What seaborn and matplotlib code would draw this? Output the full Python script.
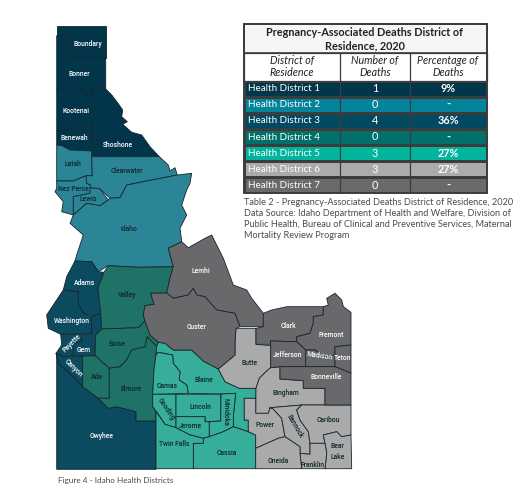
import numpy as np
import seaborn as sns
import matplotlib
matplotlib.use('Agg')
import matplotlib.pyplot as plt
from matplotlib.colors import ListedColormap
from matplotlib.patches import Rectangle

sns.set_theme(style='white')
plt.rcParams['font.family'] = ['Lato', 'DejaVu Sans']

# table
districts = ['Health District 1', 'Health District 2', 'Health District 3', 'Health District 4',
             'Health District 5', 'Health District 6', 'Health District 7']
deaths = ['1', '0', '4', '0', '3', '3', '0']
percents = ['9%', '-', '36%', '-', '27%', '27%', '-']
table_colors = ['#02364b', '#03849a', '#014a62', '#02706a', '#02b49c', '#ababab', '#6a6a6c']
map_colors = ['#02354a', '#2c8596', '#0b4a5f', '#1f7266', '#36ae9a', '#aaaaaa', '#69696b']

# county outlines
counties_d1 = {
    'Boundary': [(56.7,25.7),(105.7,25.7),(105.7,57.7),(69.3,57.7),(69.3,35.7),(56.7,35.7)],
    'Bonner': [(56.7,35.7),(69.3,35.7),(69.3,57.7),(105.7,57.7),(105.7,89),(98,85),(93.3,85.7),(92.7,95),(83.3,95),(83.3,89),(56.7,90.3)],
    'Kootenai': [(56.7,90.3),(83.3,89),(83.3,95),(92.7,95),(92.7,126),(77.3,126.7),(77.3,130),(56.7,130.7)],
    'Benewah': [(56.7,130.7),(77.3,130),(77.3,126.7),(92.7,126),(91.7,151),(70,150),(61.7,145.7),(56.7,145)],
    'Shoshone': [(93.3,85.7),(98,85),(105.7,89),(111.7,95),(117.3,102.3),(122.7,110),(121.7,116.7),(127.3,121.7),(122.7,124.3),
                 (131.7,132.3),(141.7,135),(150,146.7),(159.3,156.7),(91.7,156.7),(91.7,151),(92.7,126),(92.7,95)],
}
counties_d2 = {
    'Latah': [(56.7,145),(61.7,145.7),(70,150),(91.7,151),(91.7,156.7),(92.3,175.7),(86,175.7),(73.3,181),(56.7,181)],
    'Nez Perce': [(56.7,181),(73.3,181),(86,175.7),(86.7,183.3),(90.7,185),(90,193.3),(73.3,196.7),(73.3,215),(61.7,211.7),
                  (63.3,201.7),(55,191.7),(56.7,188.3)],
    'Lewis': [(73.3,196.7),(90,193.3),(90,187.7),(99.3,188.3),(108.3,200),(100,205.7),(86.7,203.3),(73.3,215)],
    'Clearwater': [(91.7,156.7),(159.3,156.7),(168.3,165),(170,171),(175,167.7),(177.3,175),(126.7,185),(120,197.7),(110,198.3),
                   (99.3,188.3),(90,187.7),(90.7,185),(86.7,183.3),(86,175.7),(92.3,175.7)],
    'Idaho': [(177.3,175),(126.7,185),(120,197.7),(110,198.3),(108.3,200),(100,205.7),(86.7,203.3),(73.3,215),(70,223.3),(83.3,235),
              (76.7,255),(75,261),(91.7,261.7),(98.3,271.7),(108.3,265.7),(138.3,267.3),(173.3,266.7),(168.3,248.3),(181.7,241.7),
              (180,228.3),(186.7,215),(181.7,205),(186.7,190),(190,183.3),(191.7,173.3)],
}
counties_d3 = {
    'Adams': [(75,261),(91.7,261.7),(98.3,271.7),(104,272.3),(98,288),(100.7,313.3),(93.3,316),(83.3,313.3),(78.3,303.3),(78.3,291.7),
              (63.3,290),(66.7,276.7)],
    'Washington': [(63.3,290),(78.3,291.7),(78.3,303.3),(83.3,313.3),(91.7,316.7),(91.7,333.7),(60.7,334.3),(48.3,328.3),(46.7,315),(53.3,305)],
    'Gem': [(91.7,316.7),(100.7,313.3),(101.7,329),(95.7,335),(95,355.7),(73.3,356),(73.3,343.3),(81.7,341),(81.7,334.3),(91.7,333.7)],
    'Payette': [(60.7,334.3),(81.7,334.3),(81.7,341),(73.3,343.3),(73.3,356),(63.3,356.7),(56,353.3),(61.7,345)],
    'Canyon': [(56,353.3),(63.3,356.7),(73.3,356),(82.7,356),(82.7,386.7),(73.3,376.7),(58.3,363.3)],
    'Owyhee': [(56.7,353.3),(58.3,363.3),(73.3,376.7),(82.7,386.7),(98.3,398.3),(108.3,408.3),(116.7,406.7),(136,411.7),(136,421),
               (156,421),(156,469.3),(56.7,469.3)],
}
counties_d4 = {
    'Valley': [(104,272.3),(108.3,265.7),(138.3,267.3),(173.3,266.7),(170,278),(166.7,293),(150.7,293.3),(154,304.3),(145,305.7),
               (143.3,315),(145,321),(138.3,327.7),(101.7,329),(100.7,313.3),(98,288)],
    'Boise': [(95.7,335),(101.7,329),(138.3,327.7),(145,321),(150,335),(158.3,342.3),(156.7,346.7),(147.3,336.7),(145,346.7),
              (131.7,350),(126.7,360),(120,366.7),(109.3,368.3),(95,355.7)],
    'Ada': [(82.7,356),(95,355.7),(109.3,368.3),(109.3,398.3),(98.3,398.3),(82.7,386.7)],
    'Elmore': [(109.3,368.3),(120,366.7),(126.7,360),(131.7,350),(145,346.7),(147.3,336.7),(156.7,346.7),(156,355),(154,370),
               (152.7,394.3),(152.7,406.7),(156,411.7),(156,421),(136,421),(136,411.7),(116.7,406.7),(108.3,408.3),(98.3,398.3),(109.3,398.3)],
}
counties_d5 = {
    'Blaine': [(156.7,346.7),(158.3,342.3),(165,343.3),(173.3,350),(191.7,350),(203.3,361),(218.3,369),(225,381.7),(239.3,388.3),
               (256,388.3),(255.7,398.3),(244.3,398.3),(244.3,420),(248.3,420),(248.3,431.7),(233.3,426.7),(233.3,416.7),(235.7,393.3),
               (221,394),(188.3,393.3),(186.7,385),(179.3,380),(180,371.7),(173.3,363.3),(172.7,355),(158.3,352.3),(156,355)],
    'Camas': [(156,355),(158.3,352.3),(172.7,355),(173.3,363.3),(180,371.7),(179.3,380),(186.7,385),(188.3,393.3),(152.7,394.3),(154,370)],
    'Gooding': [(152.7,394.3),(176,394.3),(176,427.7),(165,424.3),(156.7,411.7),(152.7,406.7)],
    'Lincoln': [(176,394.3),(220.7,394.3),(220.7,421),(205,421.7),(205,416.7),(176,416.7)],
    'Jerome': [(176,416.7),(205,416.7),(205,421.7),(209.3,421.7),(209.3,436.7),(203.3,438.3),(190,435),(176,427.7)],
    'Minidoka': [(221,394),(235.7,393.3),(233.3,416.7),(233.3,426.7),(223.3,431.7),(209.3,436.7),(209.3,421.7),(220.7,421)],
    'Cassia': [(203.3,438.3),(209.3,436.7),(223.3,431.7),(233.3,426.7),(248.3,431.7),(255.7,435),(255.7,468.7),(193.3,468.7),(193.3,443.3),(203.3,443.3)],
    'Twin Falls': [(156,411.7),(165,424.3),(176,427.7),(190,435),(203.3,438.3),(203.3,443.3),(193.3,443.3),(193.3,468.7),(156,468.7)],
}
counties_d6 = {
    'Butte': [(236,328.3),(256,328.3),(256,344.3),(270.7,345.7),(270.7,367.7),(266.7,371),(259.3,378.3),(256,388.3),(239.3,388.3),
              (225,381.7),(218.3,369),(235,355),(235,341.7)],
    'Bingham': [(270.7,367.7),(280,366.7),(280,379),(303.3,380.7),(303.3,388.3),(325,388.3),(325,405),(301.7,405),(270,407.7),
                (268.3,413.3),(255.7,413.3),(256,388.3),(259.3,378.3),(266.7,371)],
    'Power': [(244.3,398.3),(255.7,398.3),(255.7,413.3),(268.3,413.3),(270,407.7),(273.3,409),(281.7,418.3),(285,436.7),(278.3,438.3),
              (255.7,448.3),(255.7,435),(248.3,431.7),(248.3,420),(244.3,420)],
    'Bannock': [(270,407.7),(301.7,405),(296.7,410),(300,420),(308.3,431.7),(310,443.3),(310,454.3),(300,453.3),(300,446.7),(285,436.7),
                (281.7,418.3),(273.3,409)],
    'Caribou': [(301.7,405),(351,405),(351,435),(341.7,436.7),(336.7,431.7),(323.3,435),(325,443.3),(310,443.3),(308.3,431.7),(300,420),(296.7,410)],
    'Bear Lake': [(323.3,435),(336.7,431.7),(341.7,436.7),(351,435),(351.7,468.7),(325,468.7),(326.7,453),(325,443.3)],
    'Franklin': [(310,443.3),(325,443.3),(326.7,453),(325,468.7),(301.7,468.7),(300,453.3),(310,454.3)],
    'Oneida': [(255.7,448.3),(278.3,438.3),(285,436.7),(300,446.7),(300,453.3),(301.7,468.7),(255.7,468.7)],
}
counties_d7 = {
    'Lemhi': [(168.3,248.3),(181.7,241.7),(188.3,247.7),(205,238.3),(211.7,235),(218.3,248.3),(223.3,258.3),(233.3,285),(246.7,290),
              (251.7,298.3),(263.3,313.3),(263.3,326.7),(240,326.7),(235,313.3),(216.7,310),(205,296.7),(196.7,295),(193.3,288.3),
              (188.3,295),(173.3,298.3),(166.7,293),(170,278),(173.3,266.7)],
    'Custer': [(145,321),(143.3,315),(145,305.7),(154,304.3),(150.7,293.3),(166.7,293),(173.3,298.3),(188.3,295),(193.3,288.3),
               (196.7,295),(205,296.7),(216.7,310),(235,313.3),(240,326.7),(236,328.3),(235,341.7),(235,355),(218.3,369),(203.3,361),
               (191.7,350),(173.3,350),(165,343.3),(158.3,342.3),(150,335)],
    'Clark': [(263.3,313.3),(271.7,310),(286.7,306.7),(323.3,306.7),(323.3,315),(313.3,316.7),(313.3,323.3),(310,333.3),(296.7,336.7),
              (296.7,341.7),(270.7,341),(270.7,344.3),(256,344.3),(256,328.3),(263.3,326.7)],
    'Fremont': [(323.3,306.7),(328.3,305),(326.7,298.3),(335,293.3),(341.7,300),(343.3,306.7),(351,312.3),(351,345),(335,346.7),(335,355),
                (325,356.7),(315,350),(305.7,350),(296.7,341.7),(296.7,336.7),(310,333.3),(313.3,323.3),(313.3,316.7),(323.3,315)],
    'Jefferson': [(270.7,341),(296.7,341.7),(305.7,350),(305.7,366.7),(280,366.7),(270.7,367.7)],
    'Madison': [(305.7,350),(315,350),(325,356.7),(335,355),(335,366.7),(305.7,366.7)],
    'Teton': [(335,346.7),(351,345),(351,373.3),(343.3,370),(335,366.7)],
    'Bonneville': [(280,366.7),(335,366.7),(343.3,370),(351,373.3),(351,405),(325,405),(325,388.3),(303.3,388.3),(303.3,380.7),(280,379)],
}
all_districts = [counties_d1, counties_d2, counties_d3, counties_d4, counties_d5, counties_d6, counties_d7]

# name, x, y, rotation, white text?
labels = [
    ('Boundary', 88.3, 43.7, 0, True), ('Bonner', 79.3, 74.3, 0, True), ('Kootenai', 75.7, 110.7, 0, True),
    ('Benewah', 74.7, 138, 0, True), ('Shoshone', 117.7, 145, 0, True), ('Latah', 73.3, 164, 0, False),
    ('Clearwater', 127, 171.3, 0, False), ('Nez Perce', 73.3, 189, 0, False), ('Lewis', 88.3, 199, 0, False),
    ('Idaho', 129, 229, 0, False), ('Adams', 84.3, 282.7, 0, True), ('Valley', 127.3, 295, 0, False),
    ('Washington', 71.7, 320.7, 0, True), ('Payette', 71.7, 343.3, 45, True), ('Gem', 84, 350, 0, True),
    ('Boise', 116.7, 344, 0, False), ('Canyon', 73.3, 367.7, -45, True), ('Ada', 97.3, 377.3, 0, False),
    ('Elmore', 131.3, 389.3, 0, False), ('Owyhee', 101.7, 436, 0, True), ('Camas', 166.7, 385.7, 0, False),
    ('Gooding', 165.7, 409.3, -55, False), ('Twin Falls', 173.7, 444, 0, False), ('Lemhi', 201, 271, 0, True),
    ('Custer', 196.7, 327.3, 0, True), ('Blaine', 203.7, 379.7, 0, False), ('Lincoln', 200.3, 407, 0, False),
    ('Jerome', 190.7, 426, 0, False), ('Minidoka', 226, 412.3, -90, False), ('Cassia', 227, 453, 0, False),
    ('Butte', 250, 363.3, 0, False), ('Clark', 288, 325.7, 0, True), ('Fremont', 331, 335.3, 0, True),
    ('Jefferson', 288, 355.3, 0, True), ('Madison', 319.3, 356, -8, True), ('Teton', 342.7, 358.3, 0, True),
    ('Bonneville', 326.7, 377, 0, True), ('Bingham', 286, 392.7, 0, False), ('Power', 265.3, 425.3, 0, False),
    ('Bannock', 294.3, 426.7, -60, False), ('Caribou', 328, 419.7, 0, False), ('Oneida', 278.3, 461.3, 0, False),
    ('Franklin', 312.7, 465, 0, False), ('Bear\nLake', 337.5, 451.7, 0, False),
]

caption_lines = ['Table 2 - Pregnancy-Associated Deaths District of Residence, 2020',
                 'Data Source: Idaho Department of Health and Welfare, Division of',
                 'Public Health, Bureau of Clinical and Preventive Services, Maternal',
                 'Mortality Review Program']

W, H = 524, 500
fig = plt.figure(figsize=(W / 100, H / 100), dpi=100, facecolor='white')

# table rows as a one column heatmap
hax = fig.add_axes([243.5 / W, 1 - 193.3 / H, 243 / W, 112.6 / H], zorder=0)
sns.heatmap(np.arange(7).reshape(7, 1), ax=hax, cmap=ListedColormap(table_colors), cbar=False,
            linewidths=0.9, linecolor='#3c3c3c', xticklabels=False, yticklabels=False)

# everything else goes on a pixel-sized axes on top
ax = fig.add_axes([0, 0, 1, 1], zorder=1)
ax.set_xlim(0, W)
ax.set_ylim(H, 0)
ax.axis('off')

for i, group in enumerate(all_districts):
    for name, pts in group.items():
        xy = np.array(pts)
        ax.fill(xy[:, 0], xy[:, 1], facecolor=map_colors[i], edgecolor='#14262e', lw=0.6, joinstyle='round')

label_font = dict(family='Roboto', fontweight='medium', fontsize=4.9, ha='center', va='center', rotation_mode='anchor')
for name, x, y, rot, white in labels:
    ax.text(x, y, name, rotation=rot, color='white' if white else '#10262c', linespacing=1.5, **label_font)

# table header and frame
edge = '#3c3c3c'
ax.add_patch(Rectangle((243.5, 24), 243, 28.7, facecolor='#f6f6f6', edgecolor=edge, lw=1.2))
ax.add_patch(Rectangle((243.5, 52.7), 243, 28, facecolor='white', edgecolor=edge, lw=0.9))
ax.add_patch(Rectangle((243.5, 24), 243, 169.3, facecolor='none', edgecolor=edge, lw=1.4))
for x in [340, 410]:
    ax.plot([x, x], [52.7, 193.3], color=edge, lw=0.9)

ax.text(365, 32.8, 'Pregnancy-Associated Deaths District of', fontsize=7.8, fontweight='bold', color='#222222',
        ha='center', va='center')
ax.text(365, 45.5, 'Residence, 2020', fontsize=7.8, fontweight='bold', color='#222222', ha='center', va='center')
headers = [('District of\nResidence', 292), ('Number of\nDeaths', 375), ('Percentage of\nDeaths', 448)]
for txt, x in headers:
    ax.text(x, 66.5, txt, fontsize=7.7, fontstyle='italic', color='#222222', ha='center', va='center', linespacing=1.2)

row_h = 112.6 / 7
for i in range(7):
    y = 80.7 + row_h * (i + 0.5)
    ax.text(248, y, districts[i], fontsize=7.1, color='white', ha='left', va='center')
    ax.text(375, y, deaths[i], fontsize=7.8, color='white', ha='center', va='center')
    ax.text(448, y, percents[i], fontsize=7.8, fontweight='bold', color='white', ha='center', va='center')

for i, line in enumerate(caption_lines):
    ax.text(244, 202.7 + i * 10.8, line, fontsize=6.6, color='#4a4a4a', ha='left', va='center')

ax.text(58.3, 480.7, 'Figure 4 - Idaho Health Districts', fontsize=5.9, color='#4a4a4a', ha='left', va='center')

fig.savefig('out.png', dpi=100, facecolor='white')
